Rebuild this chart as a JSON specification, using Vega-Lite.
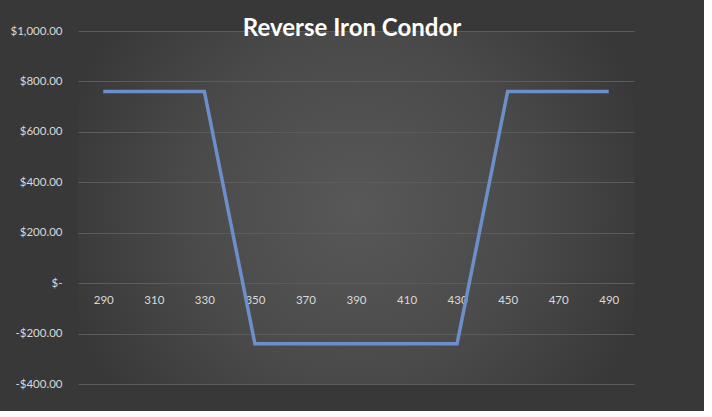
{
  "$schema": "https://vega.github.io/schema/vega-lite/v6.json",
  "autosize": {"type": "none"},
  "width": 556,
  "height": 353,
  "padding": {"left": 78, "top": 31, "right": 70, "bottom": 27},
  "background": "#383838",
  "config": {
    "view": {
      "stroke": null,
      "fill": {
        "gradient": "radial",
        "x1": 0.5, "y1": 0.5, "r1": 0,
        "x2": 0.5, "y2": 0.5, "r2": 0.55,
        "stops": [
          {"offset": 0, "color": "#585858"},
          {"offset": 0.55, "color": "#4a4a4a"},
          {"offset": 1, "color": "#383838"}
        ]
      }
    },
    "font": "Lato"
  },
  "title": {
    "text": "Reverse Iron Condor",
    "color": "#ffffff",
    "font": "Lato",
    "fontSize": 24,
    "fontWeight": "bold",
    "anchor": "middle",
    "baseline": "alphabetic",
    "offset": -35,
    "dx": -4
  },
  "data": {
    "values": [
      {"price": 290, "pl": 760},
      {"price": 310, "pl": 760},
      {"price": 330, "pl": 760},
      {"price": 350, "pl": -240},
      {"price": 370, "pl": -240},
      {"price": 390, "pl": -240},
      {"price": 410, "pl": -240},
      {"price": 430, "pl": -240},
      {"price": 450, "pl": 760},
      {"price": 470, "pl": 760},
      {"price": 490, "pl": 760}
    ]
  },
  "mark": {"type": "line", "color": "#6a8fca", "strokeWidth": 3.5, "strokeJoin": "miter"},
  "encoding": {
    "x": {
      "field": "price",
      "type": "quantitative",
      "scale": {"domain": [280, 500], "nice": false, "zero": false},
      "axis": {
        "values": [290, 310, 330, 350, 370, 390, 410, 430, 450, 470, 490],
        "title": null,
        "grid": false,
        "domain": false,
        "ticks": false,
        "offset": -101,
        "labelPadding": 11,
        "labelColor": "#d9d9d9",
        "labelFont": "Lato",
        "labelFontSize": 11.5
      }
    },
    "y": {
      "field": "pl",
      "type": "quantitative",
      "scale": {"domain": [-400, 1000], "nice": false, "zero": false},
      "axis": {
        "values": [-400, -200, 0, 200, 400, 600, 800, 1000],
        "title": null,
        "domain": false,
        "ticks": false,
        "grid": true,
        "gridColor": "#5c5c5c",
        "gridWidth": 1,
        "labelPadding": 16,
        "labelColor": "#d9d9d9",
        "labelFont": "Lato",
        "labelFontSize": 11.5,
        "labelExpr": "datum.value == 0 ? '$-' : (datum.value < 0 ? '-$' : '$') + format(abs(datum.value), ',.2f')"
      }
    }
  }
}
